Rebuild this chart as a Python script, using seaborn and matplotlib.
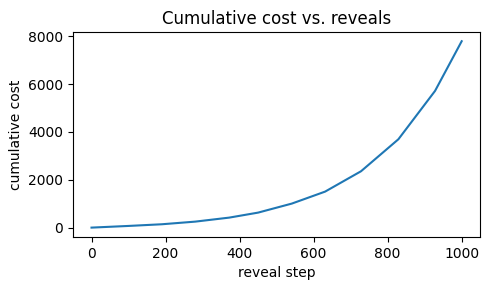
import matplotlib
matplotlib.use('Agg')
import matplotlib.pyplot as plt
import seaborn as sns

steps = [0, 100, 190, 280, 372, 450, 541, 631, 728, 829, 928, 1000]
cost = [0, 70, 140, 250, 418, 627, 1004, 1505, 2356, 3694, 5715, 7793]

plt.figure(figsize=(4.9, 2.9), dpi=100)
sns.lineplot(x=steps, y=cost)
plt.title('Cumulative cost vs. reveals')
plt.xlabel('reveal step')
plt.ylabel('cumulative cost')
plt.subplots_adjust(left=0.149, right=0.980, top=0.890, bottom=0.183)
plt.savefig('out.png')
